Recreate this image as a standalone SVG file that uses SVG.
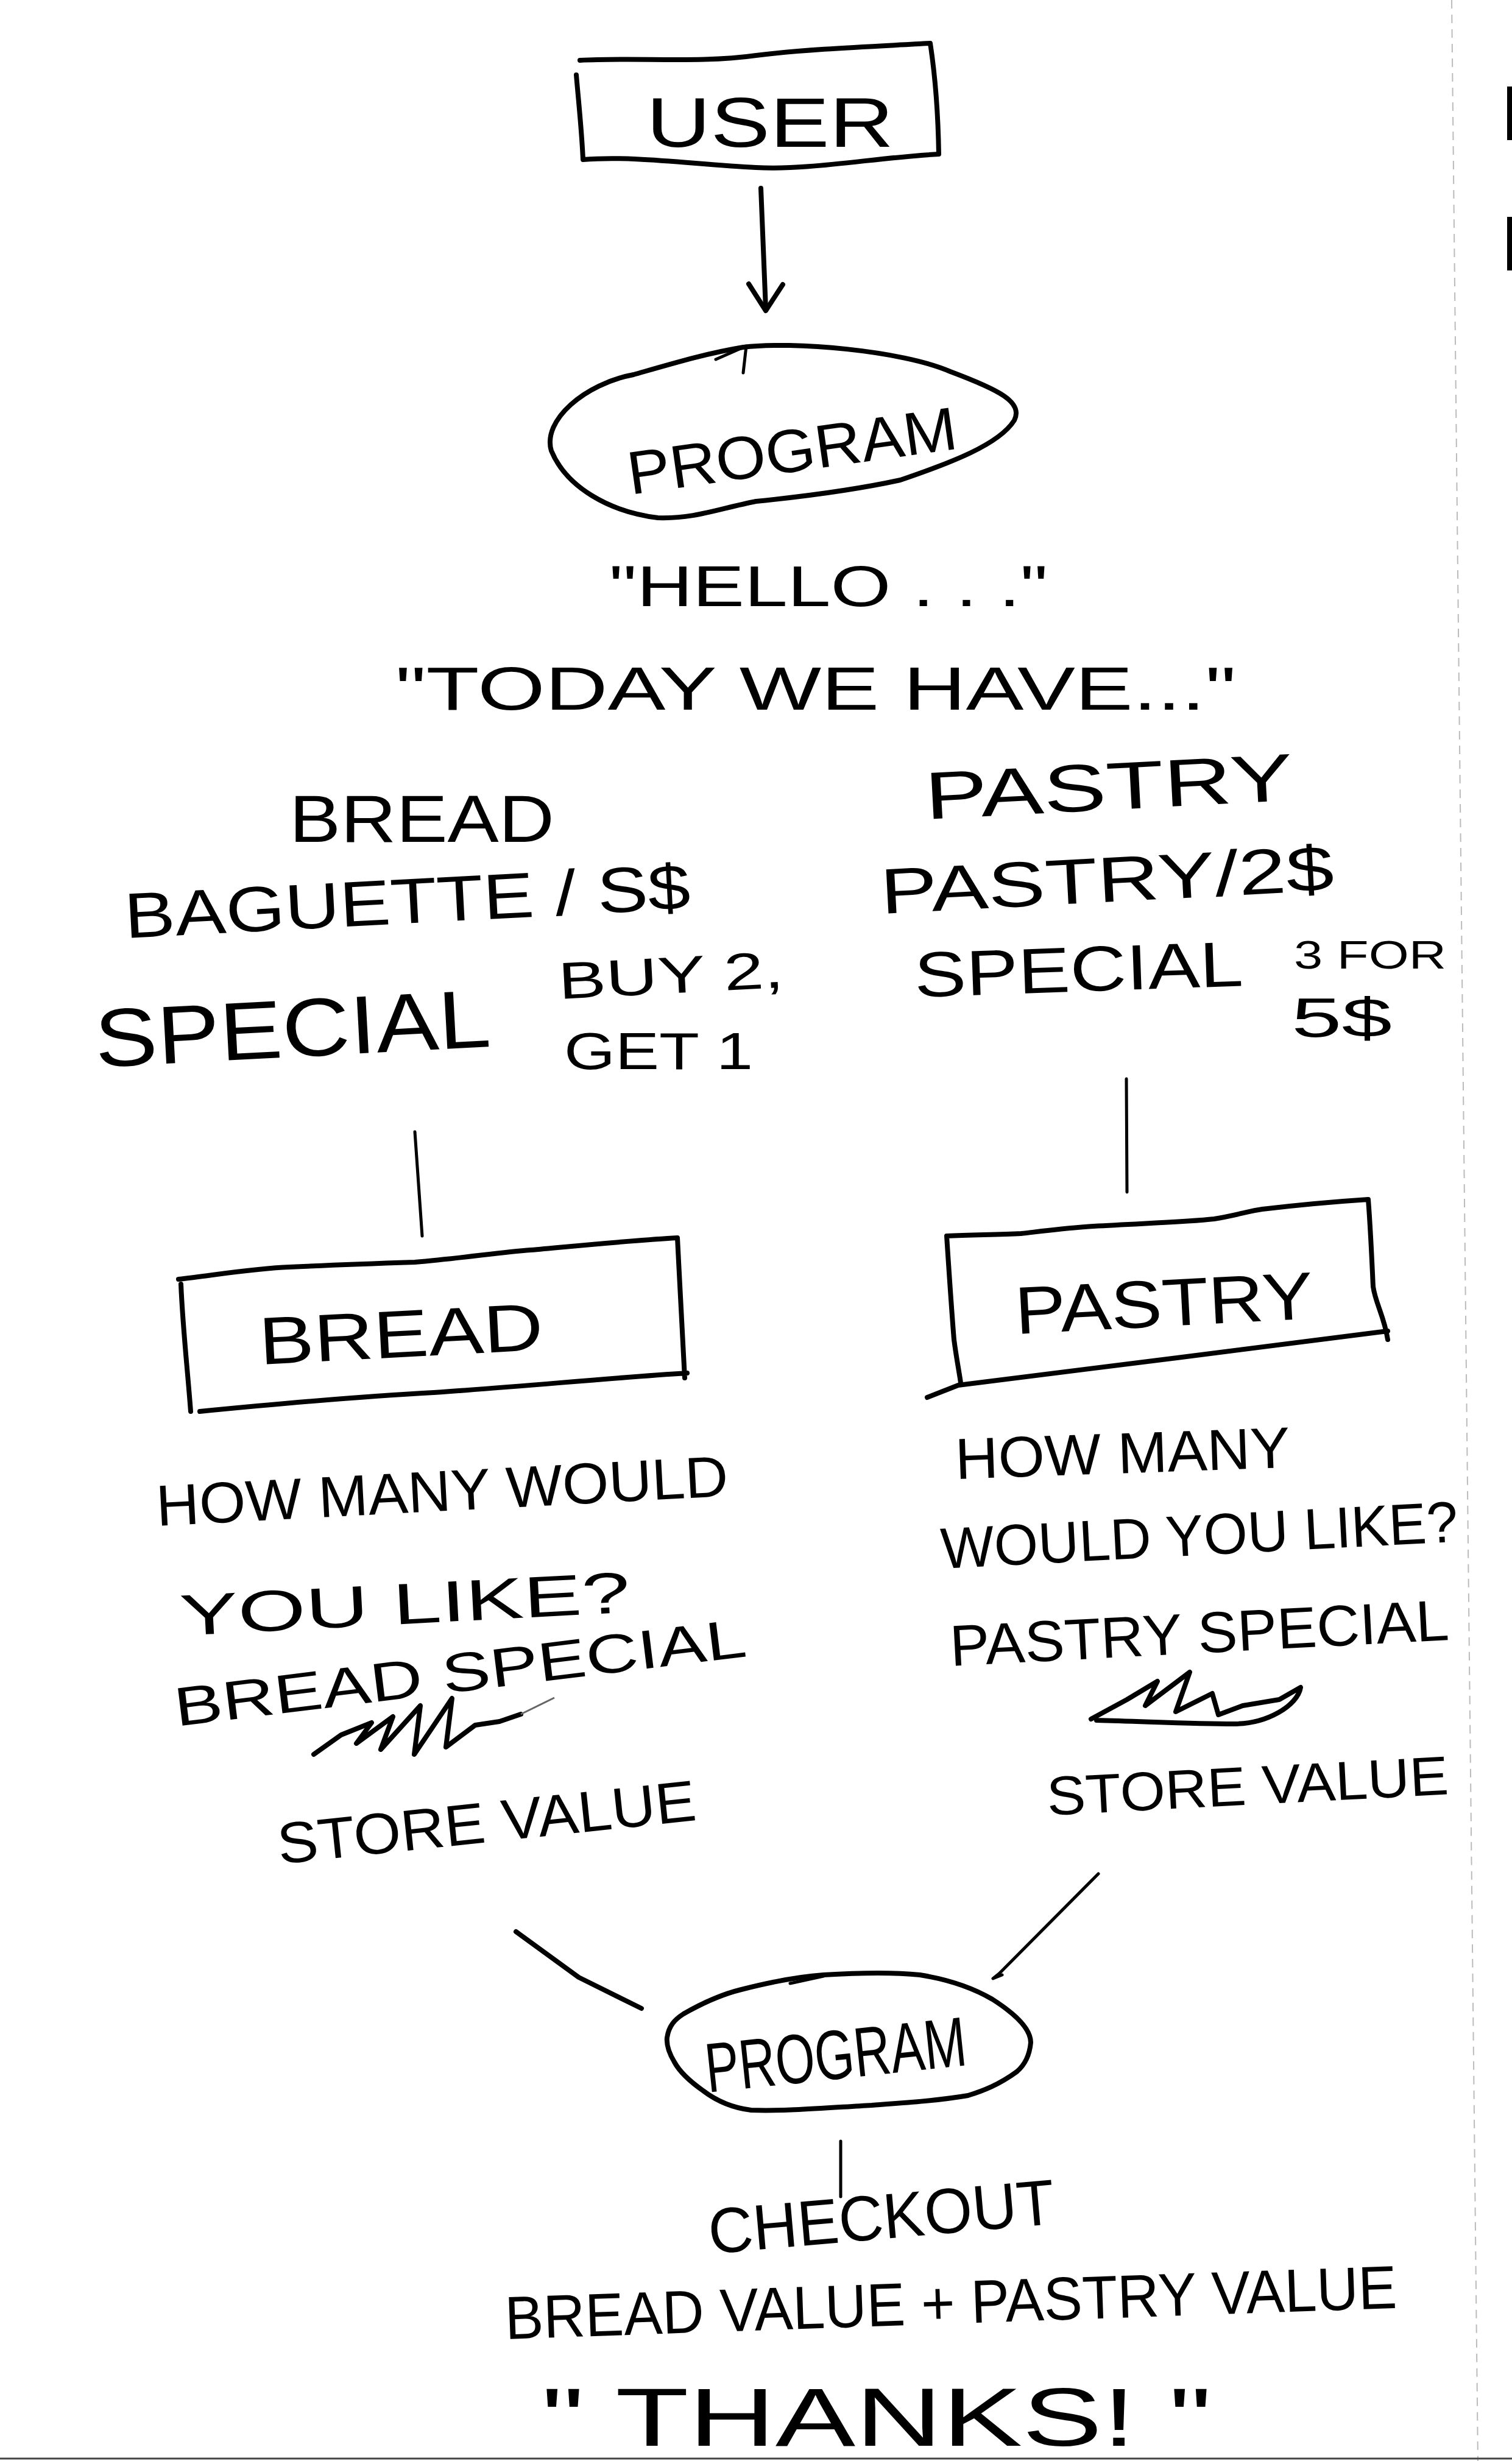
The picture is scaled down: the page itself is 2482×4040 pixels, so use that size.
<svg xmlns="http://www.w3.org/2000/svg" width="2482" height="4040" viewBox="0 0 2482 4040">
<style>
.ink{fill:none;stroke:#000;stroke-width:8;stroke-linecap:round;stroke-linejoin:round}
.thin{fill:none;stroke:#000;stroke-width:5;stroke-linecap:round;stroke-linejoin:round}
.t{font-family:"Liberation Sans","DejaVu Sans",Arial,sans-serif;fill:#000;lengthAdjust:spacingAndGlyphs}
.edge{fill:none;stroke:#bbb;stroke-width:2;stroke-dasharray:14 10}
</style>
<rect width="2482" height="4040" fill="#fff"/>
<g id="page-edge">
<path class="edge" d="M2383,0 L2426,4040"/>
<rect x="2474" y="142" width="8" height="88" fill="#000"/>
<rect x="2474" y="356" width="8" height="88" fill="#000"/>
<path d="M0,4036 L2482,4036" stroke="#444" stroke-width="3"/>
</g>
<g id="connectors">
<path class="ink" d="M1249,309 L1257,507"/>
<path class="ink" d="M1229,466 L1257,510 L1285,467"/>
<path class="thin" d="M681,1858 L693,2029"/>
<path class="thin" d="M1849,1771 L1850,1957"/>
<path class="ink" d="M847,3171 L950,3246 L1053,3297"/>
<path class="thin" d="M1803,3076 L1640,3240 L1630,3248 L1645,3242"/>
<path class="thin" d="M1380,3515 L1380,3606"/>
</g>
<g id="user">
<path class="ink" d="M952,99 C1050,94 1150,104 1241,91 C1330,80 1440,76 1527,71 C1536,130 1540,190 1541,253 C1440,258 1330,280 1241,275 C1140,270 1040,255 957,262 C955,215 950,170 946,123"/>
<text class="t" x="1061" y="241" font-size="115" textLength="406" lengthAdjust="spacingAndGlyphs">USER</text>
</g>
<g id="program-top">
<path class="ink" d="M1220,570 C1300,560 1480,575 1560,610 C1640,640 1680,660 1665,690 C1640,730 1560,760 1478,788 C1400,805 1320,815 1241,823 C1180,835 1140,852 1080,850 C1000,840 930,800 905,740 C890,690 960,630 1040,615 C1110,595 1160,580 1220,570 Z"/>
<path class="thin" d="M1175,590 L1225,568 L1220,612"/>
<text class="t" x="1035" y="812" font-size="100" textLength="545" lengthAdjust="spacingAndGlyphs" transform="rotate(-8 1035 812)">PROGRAM</text>
</g>
<g id="greeting">
<text class="t" x="1000" y="995" font-size="95" textLength="720" lengthAdjust="spacingAndGlyphs">"HELLO . . ."</text>
<text class="t" x="649" y="1165" font-size="100" textLength="1380" lengthAdjust="spacingAndGlyphs">"TODAY WE HAVE..."</text>
</g>
<g id="bread-menu">
<text class="t" x="475" y="1382" font-size="110" textLength="435" lengthAdjust="spacingAndGlyphs">BREAD</text>
<text class="t" x="206" y="1540" font-size="105" textLength="930" lengthAdjust="spacingAndGlyphs" transform="rotate(-3 206 1540)">BAGUETTE / S$</text>
<text class="t" x="158" y="1752" font-size="135" textLength="650" lengthAdjust="spacingAndGlyphs" transform="rotate(-3 158 1752)">SPECIAL</text>
<text class="t" x="918" y="1640" font-size="85" textLength="370" lengthAdjust="spacingAndGlyphs" transform="rotate(-3 918 1640)">BUY 2,</text>
<text class="t" x="926" y="1755" font-size="85" textLength="310" lengthAdjust="spacingAndGlyphs">GET 1</text>
</g>
<g id="pastry-menu">
<text class="t" x="1520" y="1345" font-size="110" textLength="605" lengthAdjust="spacingAndGlyphs" transform="rotate(-3 1520 1345)">PASTRY</text>
<text class="t" x="1447" y="1500" font-size="105" textLength="745" lengthAdjust="spacingAndGlyphs" transform="rotate(-3 1447 1500)">PASTRY/2$</text>
<text class="t" x="1502" y="1637" font-size="105" textLength="540" lengthAdjust="spacingAndGlyphs" transform="rotate(-2 1502 1637)">SPECIAL</text>
<text class="t" x="2124" y="1590" font-size="65" textLength="250" lengthAdjust="spacingAndGlyphs">3 FOR</text>
<text class="t" x="2120" y="1702" font-size="90" textLength="165" lengthAdjust="spacingAndGlyphs">5$</text>
</g>
<g id="bread">
<path class="ink" d="M293,2100 C360,2092 420,2082 475,2080 C560,2076 620,2074 681,2072 C760,2065 820,2056 871,2052 C960,2044 1040,2036 1112,2032 C1116,2110 1120,2190 1124,2262 M297,2108 C300,2180 308,2250 313,2317 M328,2317 C450,2305 600,2292 712,2286 C860,2276 1000,2262 1128,2254"/>
<text class="t" x="427" y="2240" font-size="110" textLength="467" lengthAdjust="spacingAndGlyphs" transform="rotate(-3 427 2240)">BREAD</text>
</g>
<g id="pastry">
<path class="ink" d="M1554,2029 C1600,2027 1640,2027 1676,2025 C1720,2020 1760,2015 1795,2013 C1880,2008 1950,2006 1993,2001 C2030,1995 2050,1988 2072,1985 C2140,1977 2200,1972 2246,1969 C2250,2020 2252,2070 2254,2112 C2258,2140 2272,2160 2278,2199 M2278,2185 C2050,2215 1800,2245 1573,2274 L1522,2294 M1554,2029 C1558,2090 1562,2150 1566,2199 C1570,2230 1575,2255 1577,2270"/>
<text class="t" x="1668" y="2190" font-size="110" textLength="490" lengthAdjust="spacingAndGlyphs" transform="rotate(-3 1668 2190)">PASTRY</text>
</g>
<g id="bread-notes">
<text class="t" x="258" y="2505" font-size="95" textLength="940" lengthAdjust="spacingAndGlyphs" transform="rotate(-3 258 2505)">HOW MANY WOULD</text>
<text class="t" x="297" y="2685" font-size="95" textLength="740" lengthAdjust="spacingAndGlyphs" transform="rotate(-3 297 2685)">YOU LIKE?</text>
<text class="t" x="290" y="2834" font-size="90" textLength="945" lengthAdjust="spacingAndGlyphs" transform="rotate(-7 290 2834)">BREAD SPECIAL</text>
<path class="ink" d="M515,2880 L560,2848 L610,2828 L585,2862 L645,2818 L625,2872 L690,2800 L680,2880 L742,2788 L732,2868 L780,2832 L820,2826 L855,2814"/>
<path stroke="#666" stroke-width="3" fill="none" d="M855,2814 L910,2787"/>
<text class="t" x="459" y="3060" font-size="95" textLength="690" lengthAdjust="spacingAndGlyphs" transform="rotate(-6 459 3060)">STORE VALUE</text>
</g>
<g id="pastry-notes">
<text class="t" x="1569" y="2428" font-size="95" textLength="550" lengthAdjust="spacingAndGlyphs" transform="rotate(-2 1569 2428)">HOW MANY</text>
<text class="t" x="1546" y="2575" font-size="95" textLength="850" lengthAdjust="spacingAndGlyphs" transform="rotate(-3 1546 2575)">WOULD YOU LIKE?</text>
<text class="t" x="1561" y="2735" font-size="95" textLength="820" lengthAdjust="spacingAndGlyphs" transform="rotate(-3 1561 2735)">PASTRY SPECIAL</text>
<path class="ink" d="M1791,2822 L1850,2790 L1900,2760 L1880,2800 L1953,2745 L1930,2810 L1990,2780 L2000,2815 L2040,2800 L2100,2790 L2135,2770 C2130,2800 2080,2830 2025,2830 C1960,2830 1880,2826 1800,2824"/>
<text class="t" x="1720" y="2980" font-size="90" textLength="660" lengthAdjust="spacingAndGlyphs" transform="rotate(-3 1720 2980)">STORE VALUE</text>
</g>
<g id="program-bottom">
<path class="ink" d="M1352,3242 C1420,3238 1470,3238 1510,3242 C1560,3250 1600,3265 1629,3282 C1665,3305 1692,3330 1692,3353 C1690,3375 1682,3390 1669,3401 C1640,3422 1615,3432 1589,3440 C1530,3450 1480,3452 1431,3456 C1360,3460 1290,3466 1233,3464 C1200,3460 1175,3448 1154,3432 C1130,3415 1115,3400 1107,3385 C1098,3370 1094,3355 1095,3345 C1098,3325 1108,3315 1122,3306 C1150,3290 1180,3275 1217,3266 C1260,3255 1310,3245 1352,3242 Z"/>
<path class="thin" d="M1297,3256 L1352,3244"/>
<text class="t" x="1162" y="3435" font-size="115" textLength="430" lengthAdjust="spacingAndGlyphs" transform="rotate(-6 1162 3435)">PROGRAM</text>
</g>
<g id="checkout">
<text class="t" x="1166" y="3700" font-size="105" textLength="570" lengthAdjust="spacingAndGlyphs" transform="rotate(-5 1166 3700)">CHECKOUT</text>
<text class="t" x="830" y="3840" font-size="100" textLength="1465" lengthAdjust="spacingAndGlyphs" transform="rotate(-2 830 3840)">BREAD VALUE + PASTRY VALUE</text>
<text class="t" x="889" y="4015" font-size="135" textLength="1100" lengthAdjust="spacingAndGlyphs">" THANKS! "</text>
</g>
</svg>
